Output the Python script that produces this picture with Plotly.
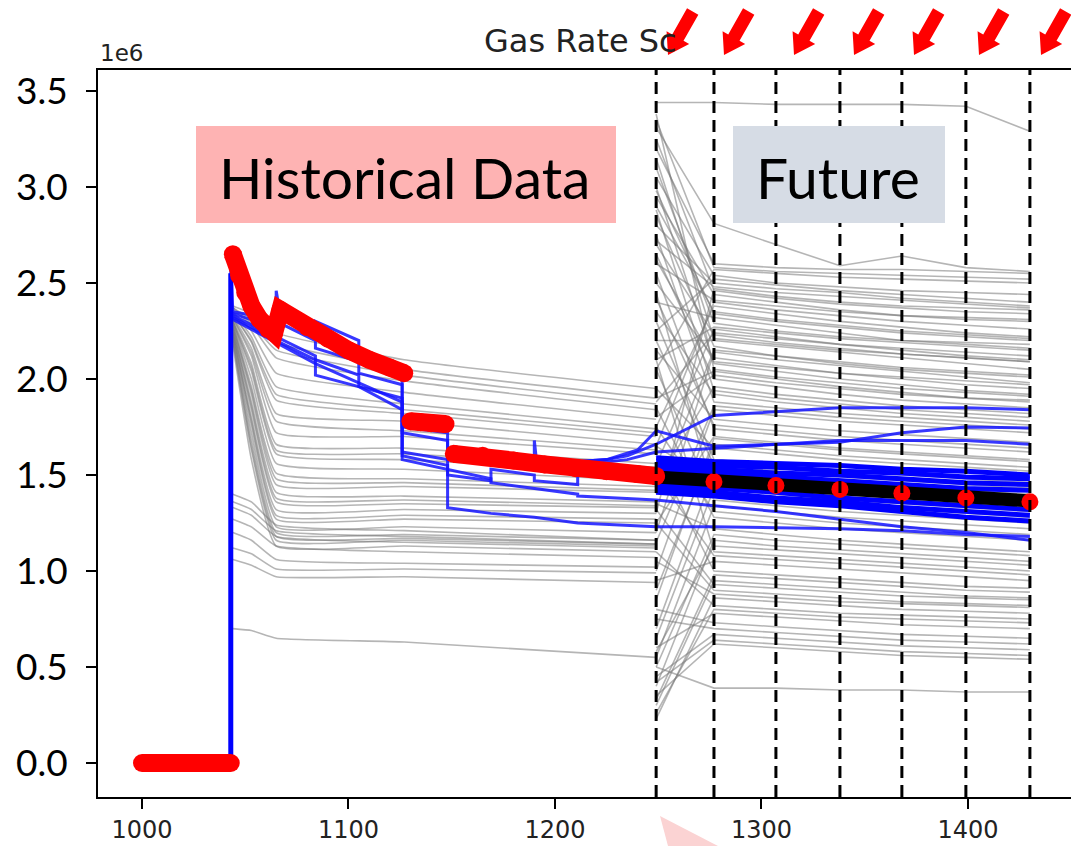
import math
import plotly.graph_objects as go

# ---------------- data (rates in units of 1e6) ----------------
# observed (red) historical data, None = break between segments
obs_hist_x = [1000, 1010, 1020, 1030, 1043, None,
              1044, 1047, 1050, 1053, 1057, 1061, 1064, 1067, 1080, 1090, 1100, 1110, 1120, 1127, None,
              1130, 1135, 1140, 1147, None,
              1151, 1165, 1180, 1195, 1210, 1225, 1240, 1249]
obs_hist_y = [0, 0, 0, 0, 0, None,
              2.65, 2.54, 2.45, 2.38, 2.31, 2.26, 2.24, 2.36, 2.27, 2.21, 2.15, 2.10, 2.06, 2.03, None,
              1.78, 1.775, 1.77, 1.765, None,
              1.61, 1.60, 1.575, 1.555, 1.535, 1.52, 1.505, 1.495]

future_x = [1249, 1277, 1307, 1338, 1368, 1399, 1430]
obs_future_y = [1.49, 1.465, 1.445, 1.425, 1.405, 1.38, 1.36]
mean_future_y = [1.49, 1.47, 1.45, 1.43, 1.41, 1.385, 1.365]

# prior ensemble, history part (grey)
gray_hist_x = [1044, 1053, 1065, 1127, 1249]
gray_hist = [
    [2.38, 2.34, 2.24, 2.10, 1.95],
    [2.37, 2.31, 2.19, 2.05, 1.90],
    [2.37, 2.29, 2.15, 2.02, 1.87],
    [2.36, 2.28, 2.11, 1.99, 1.84],
    [2.35, 2.25, 2.03, 1.93, 1.79],
    [2.35, 2.22, 1.96, 1.87, 1.74],
    [2.34, 2.20, 1.92, 1.84, 1.72],
    [2.34, 2.19, 1.89, 1.82, 1.70],
    [2.33, 2.16, 1.82, 1.78, 1.66],
    [2.32, 2.14, 1.78, 1.73, 1.63],
    [2.32, 2.12, 1.72, 1.70, 1.61],
    [2.31, 2.08, 1.66, 1.64, 1.56],
    [2.30, 2.06, 1.63, 1.61, 1.54],
    [2.30, 2.04, 1.61, 1.58, 1.51],
    [2.30, 2.00, 1.56, 1.53, 1.47],
    [2.29, 1.96, 1.51, 1.48, 1.44],
    [2.28, 1.94, 1.48, 1.46, 1.42],
    [2.28, 1.92, 1.45, 1.44, 1.41],
    [2.27, 1.88, 1.41, 1.39, 1.36],
    [2.26, 1.86, 1.38, 1.37, 1.34],
    [2.26, 1.84, 1.36, 1.35, 1.33],
    [2.25, 1.80, 1.32, 1.32, 1.30],
    [2.24, 1.78, 1.29, 1.29, 1.27],
    [2.24, 1.76, 1.27, 1.27, 1.25],
    [2.23, 1.72, 1.23, 1.23, 1.20],
    [2.22, 1.68, 1.20, 1.19, 1.16],
    [2.21, 1.65, 1.18, 1.17, 1.14],
    [2.20, 1.63, 1.16, 1.16, 1.13],
    [2.18, 1.58, 1.13, 1.13, 1.10],
    [1.40, 1.36, 1.24, 1.21, 1.16],
    [1.36, 1.32, 1.21, 1.18, 1.14],
    [1.33, 1.29, 1.18, 1.15, 1.12],
    [1.27, 1.23, 1.13, 1.10, 1.07],
    [1.20, 1.16, 1.06, 1.04, 1.02],
    [1.12, 1.09, 1.01, 1.01, 0.99],
    [1.06, 1.03, 0.97, 0.97, 0.94],
    [0.70, 0.69, 0.65, 0.63, 0.55],
]

# prior ensemble, forecast part (grey), values at future_x
gray_future = [
    [3.44, 3.44, 3.43, 3.43, 3.43, 3.42, 3.29],
    [3.31, 2.81, 2.70, 2.59, 2.64, 2.58, 2.56],
    [3.20, 2.60, 2.58, 2.57, 2.57, 2.56, 2.55],
    [3.35, 2.58, 2.56, 2.55, 2.54, 2.53, 2.52],
    [2.05, 2.57, 2.55, 2.53, 2.52, 2.51, 2.50],
    [3.05, 2.54, 2.50, 2.48, 2.46, 2.45, 2.44],
    [2.25, 2.52, 2.49, 2.46, 2.44, 2.42, 2.40],
    [2.80, 2.50, 2.47, 2.45, 2.42, 2.40, 2.38],
    [2.72, 2.48, 2.45, 2.43, 2.41, 2.39, 2.37],
    [1.30, 2.47, 2.43, 2.40, 2.38, 2.37, 2.36],
    [3.25, 2.46, 2.42, 2.39, 2.37, 2.35, 2.34],
    [2.95, 2.44, 2.40, 2.36, 2.33, 2.31, 2.30],
    [2.60, 2.41, 2.38, 2.35, 2.33, 2.32, 2.31],
    [1.65, 2.40, 2.36, 2.33, 2.30, 2.28, 2.26],
    [1.75, 2.38, 2.34, 2.30, 2.27, 2.24, 2.22],
    [2.90, 2.35, 2.31, 2.28, 2.25, 2.23, 2.21],
    [2.98, 2.34, 2.30, 2.27, 2.24, 2.22, 2.20],
    [2.40, 2.32, 2.28, 2.24, 2.20, 2.18, 2.16],
    [3.10, 2.29, 2.25, 2.22, 2.20, 2.19, 2.18],
    [2.10, 2.27, 2.24, 2.21, 2.19, 2.17, 2.15],
    [1.55, 2.26, 2.22, 2.18, 2.15, 2.12, 2.10],
    [1.88, 2.24, 2.21, 2.18, 2.16, 2.14, 2.12],
    [2.70, 2.23, 2.19, 2.16, 2.13, 2.11, 2.09],
    [3.15, 2.21, 2.18, 2.15, 2.13, 2.11, 2.09],
    [2.20, 2.20, 2.17, 2.14, 2.11, 2.08, 2.05],
    [2.85, 2.17, 2.12, 2.08, 2.05, 2.03, 2.01],
    [1.40, 2.15, 2.12, 2.09, 2.06, 2.04, 2.02],
    [1.20, 2.14, 2.10, 2.07, 2.04, 2.01, 1.98],
    [2.50, 2.11, 2.07, 2.03, 2.00, 1.97, 1.95],
    [2.62, 2.09, 2.06, 2.03, 2.01, 1.99, 1.97],
    [3.00, 2.08, 2.04, 2.00, 1.97, 1.94, 1.92],
    [3.38, 2.05, 2.01, 1.98, 1.95, 1.93, 1.91],
    [1.90, 2.04, 2.00, 1.96, 1.93, 1.90, 1.88],
    [1.80, 2.02, 1.98, 1.95, 1.92, 1.90, 1.89],
    [2.65, 2.00, 1.96, 1.92, 1.89, 1.87, 1.85],
    [1.45, 1.96, 1.92, 1.89, 1.86, 1.84, 1.82],
    [2.88, 1.94, 1.90, 1.87, 1.84, 1.82, 1.80],
    [2.35, 1.92, 1.88, 1.85, 1.82, 1.80, 1.78],
    [2.75, 1.88, 1.85, 1.82, 1.80, 1.78, 1.76],
    [1.15, 1.86, 1.83, 1.80, 1.78, 1.76, 1.74],
    [1.00, 1.84, 1.81, 1.78, 1.76, 1.74, 1.72],
    [2.15, 1.79, 1.76, 1.73, 1.71, 1.69, 1.67],
    [2.42, 1.76, 1.73, 1.70, 1.68, 1.66, 1.64],
    [2.55, 1.74, 1.71, 1.68, 1.66, 1.64, 1.62],
    [1.25, 1.70, 1.67, 1.64, 1.62, 1.60, 1.58],
    [0.85, 1.69, 1.66, 1.63, 1.61, 1.59, 1.57],
    [0.90, 1.66, 1.63, 1.60, 1.58, 1.56, 1.54],
    [1.95, 1.64, 1.61, 1.58, 1.56, 1.54, 1.52],
    [2.30, 1.58, 1.55, 1.52, 1.50, 1.48, 1.46],
    [2.20, 1.55, 1.52, 1.49, 1.47, 1.45, 1.43],
    [0.70, 1.52, 1.49, 1.46, 1.44, 1.42, 1.40],
    [1.65, 1.46, 1.43, 1.40, 1.38, 1.36, 1.34],
    [0.65, 1.43, 1.40, 1.37, 1.35, 1.33, 1.31],
    [2.45, 1.40, 1.37, 1.34, 1.32, 1.30, 1.28],
    [2.05, 1.37, 1.34, 1.31, 1.29, 1.27, 1.25],
    [0.55, 1.34, 1.31, 1.28, 1.26, 1.24, 1.22],
    [1.75, 1.31, 1.28, 1.25, 1.23, 1.21, 1.19],
    [1.85, 1.28, 1.25, 1.22, 1.20, 1.18, 1.16],
    [1.35, 1.22, 1.19, 1.16, 1.14, 1.12, 1.10],
    [0.50, 1.19, 1.16, 1.14, 1.12, 1.10, 1.08],
    [0.40, 1.16, 1.13, 1.11, 1.09, 1.07, 1.05],
    [0.58, 1.13, 1.11, 1.09, 1.07, 1.05, 1.03],
    [2.10, 1.10, 1.08, 1.06, 1.04, 1.02, 1.00],
    [1.50, 1.08, 1.06, 1.04, 1.02, 1.00, 0.98],
    [0.95, 1.05, 1.03, 1.01, 0.99, 0.97, 0.95],
    [1.60, 1.00, 0.98, 0.96, 0.94, 0.92, 0.91],
    [0.33, 0.98, 0.96, 0.94, 0.92, 0.90, 0.89],
    [0.30, 0.95, 0.93, 0.91, 0.89, 0.87, 0.86],
    [1.32, 0.93, 0.91, 0.89, 0.87, 0.86, 0.85],
    [1.25, 0.90, 0.88, 0.86, 0.84, 0.83, 0.82],
    [1.05, 0.88, 0.86, 0.84, 0.83, 0.82, 0.81],
    [0.23, 0.86, 0.84, 0.82, 0.80, 0.79, 0.78],
    [1.10, 0.82, 0.80, 0.78, 0.77, 0.76, 0.75],
    [0.26, 0.80, 0.78, 0.76, 0.75, 0.74, 0.73],
    [0.60, 0.78, 0.76, 0.74, 0.72, 0.71, 0.70],
    [0.80, 0.73, 0.71, 0.69, 0.67, 0.66, 0.65],
    [0.75, 0.70, 0.68, 0.66, 0.64, 0.63, 0.62],
    [0.45, 0.67, 0.65, 0.63, 0.61, 0.60, 0.59],
    [0.42, 0.64, 0.62, 0.60, 0.58, 0.57, 0.56],
    [0.35, 0.62, 0.60, 0.58, 0.56, 0.55, 0.54],
    [0.50, 0.39, 0.39, 0.38, 0.38, 0.37, 0.37],
]

# history-matched ensemble (blue), step-like history paths
blue_hist = [
    ([1043, 1043, 1044, 1064, 1065, 1065, 1067, 1084, 1084, 1105, 1105, 1126, 1126, 1148, 1148, 1169,
      1190, 1190, 1191, 1211, 1225, 1235, 1242, 1249, 1277, 1307, 1338, 1368, 1399, 1430],
     [0.0, 2.60, 2.35, 2.31, 2.31, 2.46, 2.33, 2.27, 2.30, 2.20, 2.16, 2.07, 1.75, 1.72, 1.61, 1.60,
      1.58, 1.68, 1.58, 1.57, 1.58, 1.60, 1.63, 1.66, 1.81, 1.83, 1.85, 1.85, 1.85, 1.84]),
    ([1044, 1064, 1065, 1084, 1084, 1105, 1105, 1126, 1126, 1148, 1148, 1169, 1169, 1190, 1190, 1211,
      1211, 1225, 1240, 1249, 1277, 1307, 1338, 1368, 1399, 1430],
     [2.34, 2.27, 2.30, 2.20, 2.16, 2.09, 2.03, 1.97, 1.72, 1.68, 1.58, 1.56, 1.60, 1.57, 1.55, 1.53,
      1.57, 1.58, 1.63, 1.73, 1.65, 1.66, 1.67, 1.72, 1.75, 1.745]),
    ([1044, 1065, 1084, 1084, 1105, 1126, 1126, 1148, 1148, 1169, 1169, 1190, 1190, 1211, 1211, 1235,
      1249, 1277, 1307, 1338, 1368, 1399, 1430],
     [2.33, 2.22, 2.12, 2.02, 1.96, 1.90, 1.62, 1.58, 1.50, 1.47, 1.53, 1.50, 1.47, 1.45, 1.55, 1.58,
      1.62, 1.64, 1.66, 1.68, 1.68, 1.68, 1.66]),
    ([1044, 1065, 1084, 1105, 1105, 1126, 1126, 1148, 1148, 1169, 1169, 1190, 1190, 1211, 1211, 1249,
      1277, 1307, 1338, 1368, 1399, 1430],
     [2.32, 2.20, 2.10, 2.02, 1.96, 1.84, 1.58, 1.53, 1.53, 1.48, 1.46, 1.43, 1.43, 1.40, 1.39, 1.37,
      1.34, 1.31, 1.27, 1.23, 1.20, 1.16]),
    ([1044, 1065, 1084, 1105, 1126, 1126, 1148, 1148, 1169, 1190, 1211, 1249, 1277, 1307, 1338, 1368,
      1399, 1430],
     [2.31, 2.19, 2.08, 1.98, 1.88, 1.60, 1.55, 1.33, 1.30, 1.28, 1.25, 1.23, 1.23, 1.225, 1.22, 1.21,
      1.19, 1.18]),
]

# history-matched ensemble forecast band (blue), values at future_x
blue_future = [
    [1.59, 1.57, 1.56, 1.55, 1.53, 1.52, 1.50],
    [1.57, 1.55, 1.54, 1.52, 1.51, 1.49, 1.48],
    [1.55, 1.53, 1.51, 1.50, 1.48, 1.46, 1.45],
    [1.53, 1.51, 1.49, 1.47, 1.45, 1.43, 1.42],
    [1.50, 1.48, 1.46, 1.44, 1.42, 1.40, 1.38],
    [1.47, 1.45, 1.43, 1.41, 1.39, 1.37, 1.35],
    [1.45, 1.43, 1.41, 1.38, 1.36, 1.34, 1.32],
    [1.43, 1.41, 1.38, 1.36, 1.33, 1.31, 1.29],
    [1.41, 1.39, 1.36, 1.34, 1.31, 1.28, 1.26],
]

update_times = [1249, 1277, 1307, 1338, 1368, 1399, 1430]
x_ticks = [1000, 1100, 1200, 1300, 1400]
y_ticks = [0.0, 0.5, 1.0, 1.5, 2.0, 2.5, 3.0, 3.5]
arrow_tips_px = [668, 724, 794, 854, 914, 979, 1041]

# ---------------- figure ----------------
L, R, T, B = 98, 1071, 70, 797


def pxx(px):
    return (px - L) / (R - L)


def pxy(py):
    return (B - py) / (B - T)


fig = go.Figure()
gray = "rgba(120,120,120,0.55)"
for ys in gray_hist:
    fig.add_trace(go.Scatter(x=gray_hist_x, y=ys, mode="lines",
                             line=dict(color=gray, width=1.6, shape="spline", smoothing=0.4),
                             showlegend=False))
for ys in gray_future:
    fig.add_trace(go.Scatter(x=future_x, y=ys, mode="lines",
                             line=dict(color=gray, width=1.6), showlegend=False))
for xs, ys in blue_hist:
    fig.add_trace(go.Scatter(x=xs, y=ys, mode="lines",
                             line=dict(color="rgba(20,20,255,0.85)", width=3), showlegend=False))
for ys in blue_future:
    fig.add_trace(go.Scatter(x=future_x, y=ys, mode="lines",
                             line=dict(color="#0000ff", width=5), showlegend=False))
# thick blue vertical at the start of production
fig.add_trace(go.Scatter(x=[1043, 1043], y=[0.0, 2.55], mode="lines",
                         line=dict(color="#0000ff", width=5), showlegend=False))
fig.add_trace(go.Scatter(x=future_x, y=mean_future_y, mode="lines",
                         line=dict(color="black", width=13), showlegend=False))
fig.add_trace(go.Scatter(x=obs_hist_x, y=obs_hist_y, mode="lines+markers",
                         line=dict(color="red", width=18),
                         marker=dict(color="red", size=18), showlegend=False))
fig.add_trace(go.Scatter(x=future_x, y=obs_future_y, mode="markers",
                         marker=dict(color="red", size=17), showlegend=False))

shapes = []
for t in update_times:
    shapes.append(dict(type="line", xref="x", yref="paper", x0=t, x1=t, y0=0, y1=1,
                       line=dict(color="black", width=3, dash="12px,7px"), layer="above"))
shapes.append(dict(type="rect", xref="paper", yref="paper",
                   x0=pxx(196), x1=pxx(616), y0=pxy(223), y1=pxy(126),
                   fillcolor="#FEB3B3", line=dict(width=0), layer="above"))
shapes.append(dict(type="rect", xref="paper", yref="paper",
                   x0=pxx(733), x1=pxx(945), y0=pxy(223), y1=pxy(126),
                   fillcolor="#D6DCE5", line=dict(width=0), layer="above"))
shapes.append(dict(type="path", xref="paper", yref="paper",
                   path=f"M {pxx(660)} {pxy(816)} L {pxx(718)} {pxy(846)} L {pxx(668)} {pxy(846)} Z",
                   fillcolor="#FBD3D3", line=dict(width=0), layer="above"))

# red block arrows (decoration) pointing down-left to each update time
dx, dy = -25.0, 44.0
ln = math.hypot(dx, dy)
ux, uy = dx / ln, dy / ln
nx, ny = uy, -ux
for tip in arrow_tips_px:
    tx, ty = tip, 55.0
    sx, sy = tx - ux * 50, ty - uy * 50
    bx, by = tx - ux * 20, ty - uy * 20
    pts = [(sx + nx * 6.5, sy + ny * 6.5), (bx + nx * 6.5, by + ny * 6.5), (bx + nx * 13, by + ny * 13),
           (tx, ty), (bx - nx * 13, by - ny * 13), (bx - nx * 6.5, by - ny * 6.5),
           (sx - nx * 6.5, sy - ny * 6.5)]
    path = "M " + " L ".join(f"{pxx(px):.5f} {pxy(py):.5f}" for px, py in pts) + " Z"
    shapes.append(dict(type="path", xref="paper", yref="paper", path=path,
                       fillcolor="#ff0000", line=dict(width=0), layer="above"))

annotations = [
    dict(text="Historical Data", xref="paper", yref="paper", x=pxx(404), y=pxy(177),
         showarrow=False, font=dict(family="Lato", size=57, color="black"),
         xanchor="center", yanchor="middle"),
    dict(text="Future", xref="paper", yref="paper", x=pxx(838), y=pxy(177),
         showarrow=False, font=dict(family="Lato", size=57, color="black"),
         xanchor="center", yanchor="middle"),
    dict(text="1e6", xref="paper", yref="paper", x=0, y=pxy(53), showarrow=False,
         font=dict(family="DejaVu Sans", size=23, color="#222"), xanchor="left", yanchor="middle"),
    dict(text="Gas Rate Sc", xref="paper", yref="paper", x=pxx(482), y=pxy(41), showarrow=False,
         font=dict(family="DejaVu Sans", size=32, color="#222"), xanchor="left", yanchor="middle"),
]

fig.update_layout(
    width=1071, height=846,
    margin=dict(l=L, r=1071 - R, t=T, b=846 - B),
    paper_bgcolor="white", plot_bgcolor="white",
    shapes=shapes, annotations=annotations,
    xaxis=dict(range=[978.7, 1449.9], tickvals=x_ticks, ticks="outside", ticklen=10, tickwidth=1.5,
               tickcolor="black", showline=True, linecolor="black", linewidth=2, mirror=True,
               showgrid=False, zeroline=False,
               tickfont=dict(family="DejaVu Sans", size=24, color="#222")),
    yaxis=dict(range=[-0.177, 3.609], tickvals=y_ticks, tickformat=".1f", ticks="outside",
               ticklen=10, tickwidth=1.5, tickcolor="black", showline=True, linecolor="black",
               linewidth=2, showgrid=False, zeroline=False, ticklabelstandoff=11,
               tickfont=dict(family="Lato", size=37, color="black")),
)

fig.write_html("out.html")
